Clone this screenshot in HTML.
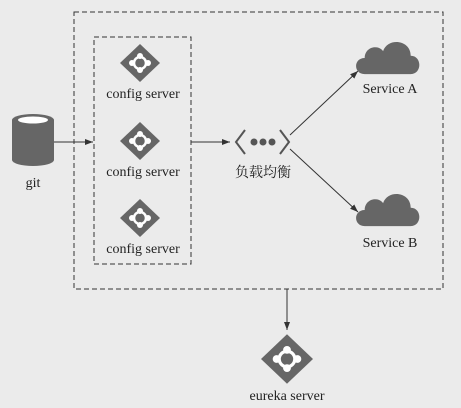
<!DOCTYPE html>
<html><head><meta charset="utf-8"><style>
html,body{margin:0;padding:0;background:#ebebeb;}
svg{display:block}
text{font-family:"Liberation Serif","Noto Serif CJK SC",serif;fill:#222}
</style></head><body>
<svg width="461" height="408" viewBox="0 0 461 408" xmlns="http://www.w3.org/2000/svg">
<defs>
<marker id="a" markerWidth="8" markerHeight="6" refX="8" refY="3" orient="auto" markerUnits="userSpaceOnUse"><path d="M0,0 L8,3 L0,6 Z" fill="#333"/></marker>
<g id="d">
<path d="M0,-19 L20,0 L0,19 L-20,0 Z" fill="#666"/>
<circle cx="0" cy="0" r="6" fill="none" stroke="#fff" stroke-width="2.5"/>
<circle cx="0" cy="-7" r="3" fill="#fff"/><circle cx="0" cy="7" r="3" fill="#fff"/>
<circle cx="-8" cy="0" r="3" fill="#fff"/><circle cx="8" cy="0" r="3" fill="#fff"/>
</g>
<g id="c">
<path d="M-22,14 C-32,14 -32,0 -22,0 C-22,-10 -10,-12 -6,-6 C-2,-18 18,-16 18,-2 C28,-2 28,14 18,14 Z" fill="#666"/>
</g>
</defs>
<rect x="74" y="12" width="369" height="277" fill="none" stroke="#333" stroke-width="1" stroke-dasharray="5,3"/>
<rect x="94" y="37" width="97" height="227" fill="none" stroke="#333" stroke-width="1" stroke-dasharray="5,3"/>
<path d="M12,120 L12,160 A21,6 0 0 0 54,160 L54,120 Z" fill="#666"/>
<ellipse cx="33" cy="120" rx="21" ry="6" fill="#666"/>
<ellipse cx="33" cy="120" rx="15" ry="3.5" fill="#fff"/>
<text x="33" y="187" font-size="14" text-anchor="middle">git</text>
<line x1="54" y1="142" x2="93" y2="142" stroke="#333" marker-end="url(#a)"/>
<use href="#d" x="140" y="63"/>
<text x="143" y="98" font-size="14" text-anchor="middle">config server</text>
<use href="#d" x="140" y="141"/>
<text x="143" y="176" font-size="14" text-anchor="middle">config server</text>
<use href="#d" x="140" y="218"/>
<text x="143" y="253" font-size="14" text-anchor="middle">config server</text>
<line x1="191" y1="142" x2="230" y2="142" stroke="#333" marker-end="url(#a)"/>
<path d="M245,130 L236,142 L245,154 M280,130 L289,142 L280,154" fill="none" stroke="#555" stroke-width="2"/>
<circle cx="254" cy="142" r="3.5" fill="#555"/><circle cx="263" cy="142" r="3.5" fill="#555"/><circle cx="272" cy="142" r="3.5" fill="#555"/>
<text x="263" y="177" font-size="14" text-anchor="middle">负载均衡</text>
<line x1="290" y1="135" x2="358" y2="71" stroke="#333" marker-end="url(#a)"/>
<line x1="290" y1="149" x2="358" y2="212" stroke="#333" marker-end="url(#a)"/>
<g transform="translate(390,58) scale(1.15)"><use href="#c"/></g>
<text x="390" y="93" font-size="14" text-anchor="middle">Service A</text>
<g transform="translate(390,210) scale(1.15)"><use href="#c"/></g>
<text x="390" y="247" font-size="14" text-anchor="middle">Service B</text>
<line x1="287" y1="289" x2="287" y2="330" stroke="#333" marker-end="url(#a)"/>
<use href="#d" x="287" y="359" transform="translate(287,359) scale(1.3) translate(-287,-359)"/>
<text x="287" y="400" font-size="14" text-anchor="middle">eureka server</text>
</svg>
</body></html>
